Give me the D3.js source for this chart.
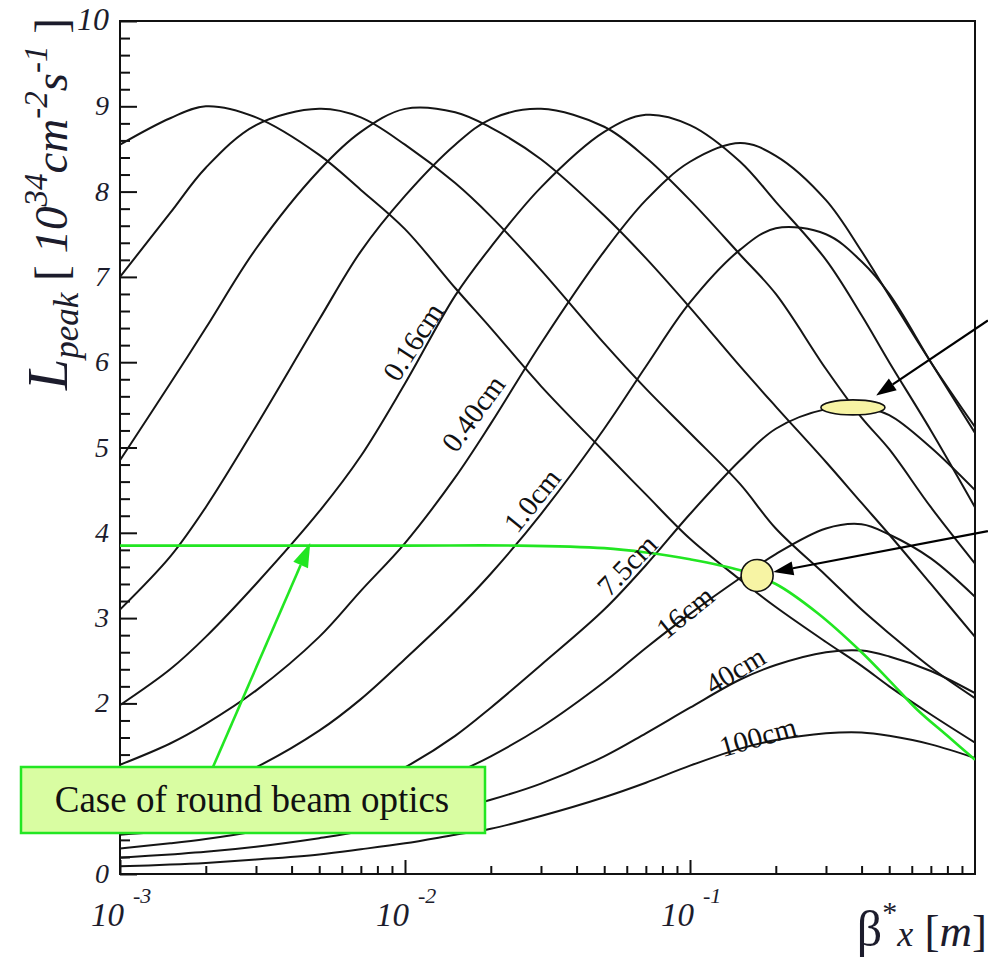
<!DOCTYPE html>
<html>
<head>
<meta charset="utf-8">
<script src="https://cdn.jsdelivr.net/npm/d3@7"></script>
<style>
  body { margin: 0; background: #fff; }
  svg { display: block; }
</style>
</head>
<body>
<div id="chart"></div>
<script>
// beta*x sample points [m], shared by all curves
const betaGrid = [0.001, 0.0015, 0.002, 0.003, 0.005, 0.007, 0.01, 0.015, 0.02, 0.03,
                  0.05, 0.07, 0.1, 0.15, 0.2, 0.3, 0.4, 0.5, 0.7, 1.0];

// L_peak [10^34 cm^-2 s^-1], one array per curve
const curve1  = [8.55, 8.86, 9.00, 8.87, 8.43, 8.02, 7.56, 6.87, 6.40, 5.72, 4.95, 4.45, 3.93, 3.45, 3.13, 2.72, 2.44, 2.20, 1.87, 1.54];
const curve2  = [7.00, 7.75, 8.28, 8.78, 8.97, 8.87, 8.55, 8.10, 7.71, 7.08, 6.22, 5.69, 5.17, 4.57, 4.05, 3.50, 3.10, 2.82, 2.42, 2.06];
const curve3  = [4.85, 5.75, 6.40, 7.33, 8.25, 8.70, 8.97, 8.93, 8.75, 8.38, 7.72, 7.22, 6.64, 5.95, 5.48, 4.83, 4.35, 3.98, 3.40, 2.78];
const curve4  = [3.10, 3.72, 4.30, 5.25, 6.50, 7.30, 7.95, 8.55, 8.85, 8.97, 8.76, 8.40, 7.90, 7.26, 6.80, 5.92, 5.35, 4.98, 4.30, 3.64];
const curve5  = [1.98, 2.40, 2.78, 3.40, 4.25, 4.90, 5.75, 6.78, 7.35, 8.05, 8.70, 8.90, 8.78, 8.35, 7.88, 7.20, 6.55, 6.00, 5.20, 4.30];
const curve6  = [1.28, 1.53, 1.76, 2.15, 2.78, 3.32, 3.88, 4.65, 5.28, 6.22, 7.30, 7.90, 8.35, 8.57, 8.42, 7.90, 7.30, 6.78, 6.00, 5.24];
const curve7  = [0.72, 0.88, 1.00, 1.25, 1.68, 2.05, 2.52, 3.08, 3.52, 4.22, 5.22, 5.95, 6.70, 7.32, 7.57, 7.50, 7.18, 6.80, 6.00, 5.17];
const curve8  = [0.46, 0.51, 0.56, 0.65, 0.82, 1.00, 1.25, 1.62, 1.95, 2.45, 3.10, 3.62, 4.22, 4.85, 5.22, 5.45, 5.47, 5.38, 5.00, 4.50];
const curve9  = [0.30, 0.36, 0.41, 0.50, 0.65, 0.78, 0.95, 1.18, 1.38, 1.72, 2.25, 2.65, 3.05, 3.47, 3.75, 4.05, 4.10, 3.98, 3.70, 3.25];
const curve10 = [0.19, 0.23, 0.26, 0.32, 0.42, 0.50, 0.62, 0.76, 0.87, 1.06, 1.38, 1.65, 1.95, 2.28, 2.45, 2.60, 2.62, 2.55, 2.38, 2.12];
const curve11 = [0.09, 0.11, 0.13, 0.17, 0.23, 0.29, 0.36, 0.46, 0.53, 0.68, 0.90, 1.07, 1.27, 1.47, 1.57, 1.65, 1.66, 1.62, 1.52, 1.36];
const curves = [curve1, curve2, curve3, curve4, curve5, curve6, curve7, curve8, curve9, curve10, curve11];

// round beam optics case (green)
const roundBeta = [0.001, 0.01, 0.025, 0.05, 0.07, 0.1, 0.15, 0.2, 0.28, 0.4, 0.5, 0.63, 0.8, 1.0];
const roundLum  = [3.85, 3.85, 3.85, 3.82, 3.77, 3.69, 3.56, 3.40, 3.06, 2.60, 2.27, 1.92, 1.62, 1.34];

// curve labels (they sit on curves 5..11)
const labelTexts = ["0.16cm", "0.40cm", "1.0cm", "7.5cm", "16cm", "40cm", "100cm"];

const yTicks = [0, 1, 2, 3, 4, 5, 6, 7, 8, 9, 10];
const xTicks = [0.001, 0.01, 0.1];
const xTickExp = ["-3", "-2", "-1"];

const W = 988, H = 963;
const mLeft = 120, mRight = 975, mTop = 21, mBottom = 874;

const svg = d3.select("#chart").append("svg")
  .attr("width", W).attr("height", H)
  .style("background", "#fff");

const x = d3.scaleLog().domain([0.001, 1]).range([mLeft, mRight]);
const y = d3.scaleLinear().domain([0, 10]).range([mBottom, mTop]);

svg.append("defs").append("clipPath").attr("id", "plot")
  .append("rect").attr("x", mLeft).attr("y", mTop)
  .attr("width", mRight - mLeft).attr("height", mBottom - mTop);

// ticks inside the frame
const yMinor = d3.range(0, 10.01, 0.2).filter(v => Math.abs(v - Math.round(v)) > 0.01);
svg.append("g").attr("transform", `translate(${mLeft},0)`)
  .call(d3.axisLeft(y).tickValues(yMinor).tickSize(-10).tickFormat(""))
  .call(g => g.select(".domain").remove());
svg.append("g").attr("transform", `translate(${mLeft},0)`)
  .call(d3.axisLeft(y).tickValues(yTicks).tickSize(-17).tickFormat(""))
  .call(g => g.select(".domain").remove());

const xMinor = [];
[0.001, 0.01, 0.1].forEach(d => { for (let k = 2; k <= 9; k++) xMinor.push(d * k); });
svg.append("g").attr("transform", `translate(0,${mBottom})`)
  .call(d3.axisBottom(x).tickValues(xMinor).tickSize(-8).tickFormat(""))
  .call(g => g.select(".domain").remove());
svg.append("g").attr("transform", `translate(0,${mBottom})`)
  .call(d3.axisBottom(x).tickValues(xTicks).tickSize(-14).tickFormat(""))
  .call(g => g.select(".domain").remove());

svg.selectAll(".tick line").attr("stroke", "#111").attr("stroke-width", 2);

// frame
svg.append("rect")
  .attr("x", mLeft).attr("y", mTop)
  .attr("width", mRight - mLeft).attr("height", mBottom - mTop)
  .attr("fill", "none").attr("stroke", "#111").attr("stroke-width", 2);

// tick labels (the "1" sits under the note box in the original)
const serif = "'Liberation Serif', 'Times New Roman', serif";
svg.append("g").selectAll("text").data(yTicks.filter(d => d !== 1)).join("text")
  .attr("x", 109).attr("y", d => y(d) + 9)
  .attr("text-anchor", "end")
  .attr("font-family", serif).attr("font-style", "italic")
  .attr("font-size", d => d === 10 ? 32 : 28)
  .attr("fill", "#1c1c2c")
  .text(d => d);

const xl = svg.append("g").selectAll("g").data(xTicks).join("g");
xl.append("text")
  .attr("x", d => x(d) + 4).attr("y", 926)
  .attr("text-anchor", "end")
  .attr("font-family", serif).attr("font-style", "italic").attr("font-size", 33)
  .attr("fill", "#1c1c2c").text("10");
xl.append("text")
  .attr("x", d => x(d) + 13).attr("y", 903)
  .attr("font-family", serif).attr("font-style", "italic").attr("font-size", 22)
  .attr("fill", "#1c1c2c").text((d, i) => xTickExp[i]);

// curves
const plot = svg.append("g").attr("clip-path", "url(#plot)");
const line = d3.line()
  .x(d => x(d[0])).y(d => y(d[1]))
  .curve(d3.curveCatmullRom.alpha(0.5));

plot.selectAll("path.lum").data(curves).join("path")
  .attr("class", "lum")
  .attr("d", c => line(betaGrid.map((b, i) => [b, c[i]])))
  .attr("fill", "none").attr("stroke", "#151515").attr("stroke-width", 2);

plot.append("path")
  .attr("d", line(roundBeta.map((b, i) => [b, roundLum[i]])))
  .attr("fill", "none").attr("stroke", "#22e622").attr("stroke-width", 2.6);

// curve labels: centre (beta, L) and rotation
const labelPos = [[0.01067, 6.24, -57], [0.01734, 5.40, -54], [0.0279, 4.38, -51],
                  [0.0601, 3.62, -46], [0.0961, 3.07, -39], [0.144, 2.39, -31], [0.173, 1.61, -16]];
svg.append("g").selectAll("text").data(labelTexts).join("text")
  .attr("transform", (d, i) => `translate(${x(labelPos[i][0])},${y(labelPos[i][1])}) rotate(${labelPos[i][2]})`)
  .attr("text-anchor", "middle").attr("dominant-baseline", "central")
  .attr("font-family", serif).attr("font-size", 29).attr("fill", "#111")
  .text(d => d);

// markers: flat beam (ellipse) and round beam (circle)
svg.append("ellipse")
  .attr("cx", x(0.373)).attr("cy", y(5.47)).attr("rx", 32).attr("ry", 7.5)
  .attr("fill", "#f7f4a4").attr("stroke", "#111").attr("stroke-width", 1.6);
svg.append("circle")
  .attr("cx", x(0.172)).attr("cy", y(3.5)).attr("r", 16)
  .attr("fill", "#f7f4a4").attr("stroke", "#111").attr("stroke-width", 1.6);

// arrows
function arrow(x1, y1, x2, y2, color, width, headLen, headW) {
  const a = Math.atan2(y2 - y1, x2 - x1);
  const bx = x2 - headLen * Math.cos(a), by = y2 - headLen * Math.sin(a);
  svg.append("line").attr("x1", x1).attr("y1", y1).attr("x2", bx).attr("y2", by)
    .attr("stroke", color).attr("stroke-width", width);
  const px = -Math.sin(a) * headW / 2, py = Math.cos(a) * headW / 2;
  svg.append("path")
    .attr("d", `M${x2},${y2}L${bx + px},${by + py}L${bx - px},${by - py}Z`)
    .attr("fill", color);
}
arrow(x(1.11), y(6.49), x(0.45), y(5.61), "#000", 2.2, 20, 14);
arrow(x(1.11), y(4.02), x(0.196), y(3.54), "#000", 2.2, 20, 14);

// round beam note
svg.append("rect")
  .attr("x", 21).attr("y", 767).attr("width", 464).attr("height", 66)
  .attr("fill", "#d9fda2").attr("stroke", "#22e622").attr("stroke-width", 2.5);
svg.append("text")
  .attr("x", 252).attr("y", 812).attr("text-anchor", "middle")
  .attr("font-family", serif).attr("font-size", 37).attr("fill", "#111")
  .text("Case of round beam optics");
arrow(213, 767, x(0.00465), y(3.88), "#22e622", 2.6, 24, 16);

// axis titles
const yt = svg.append("text")
  .attr("transform", "translate(67,204) rotate(-90)")
  .attr("text-anchor", "middle")
  .attr("font-family", serif).attr("font-size", 47).attr("fill", "#1c1c2c");
yt.append("tspan").attr("font-style", "italic").attr("font-size", 56).text("L");
yt.append("tspan").attr("font-style", "italic").attr("font-size", 35).attr("dy", 11).text("peak");
yt.append("tspan").attr("dy", -11).text(" [ ");
yt.append("tspan").attr("font-style", "italic").text("10");
yt.append("tspan").attr("font-style", "italic").attr("font-size", 33).attr("dy", -20).text("34");
yt.append("tspan").attr("font-style", "italic").attr("dy", 20).text("cm");
yt.append("tspan").attr("font-style", "italic").attr("font-size", 33).attr("dy", -20).text("-2");
yt.append("tspan").attr("font-style", "italic").attr("dy", 20).text("s");
yt.append("tspan").attr("font-style", "italic").attr("font-size", 33).attr("dy", -20).text("-1");
yt.append("tspan").attr("dy", 20).text(" ]");

const xt = svg.append("text")
  .attr("x", 987).attr("y", 946).attr("text-anchor", "end")
  .attr("font-family", serif).attr("font-size", 45).attr("fill", "#1c1c2c");
xt.append("tspan").attr("font-size", 50).text("β");
xt.append("tspan").attr("font-size", 30).attr("dy", -24).text("*");
xt.append("tspan").attr("font-style", "italic").attr("font-size", 36).attr("dy", 24).text("x");
xt.append("tspan").text(" [");
xt.append("tspan").attr("font-style", "italic").text("m");
xt.append("tspan").text("]");
</script>
</body>
</html>
